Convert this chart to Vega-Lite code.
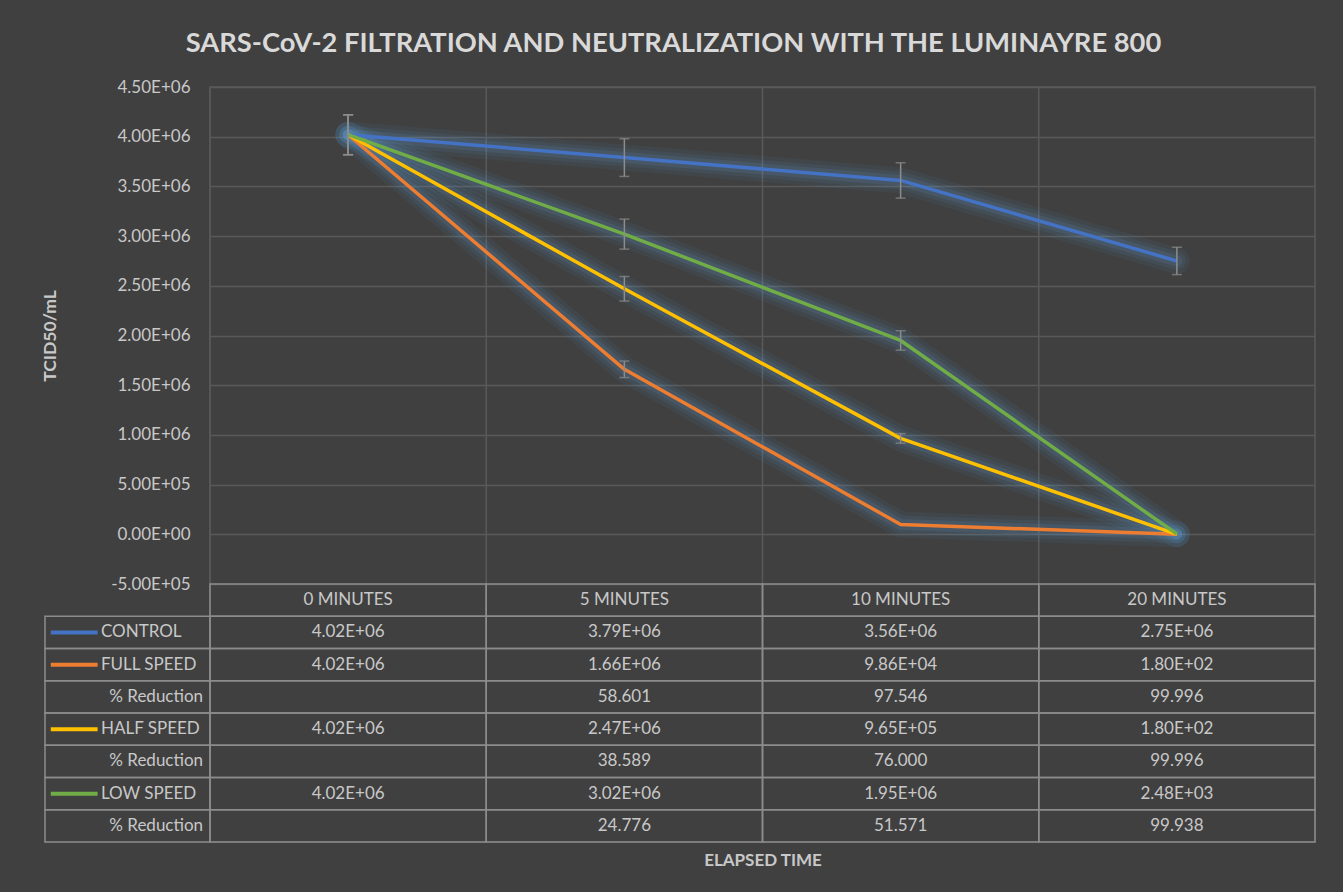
{
  "$schema": "https://vega.github.io/schema/vega-lite/v6.json",
  "width": 1105,
  "height": 755,
  "autosize": {"type": "none"},
  "padding": {"left": 210, "top": 87, "right": 28, "bottom": 50},
  "background": "#404040",
  "config": {
    "view": {"stroke": "#595959", "strokeWidth": 1.5},
    "font": "Lato",
    "text": {"font": "Lato"},
    "axis": {"labelFont": "Lato", "titleFont": "Lato"}
  },
  "title": {
    "text": "SARS-CoV-2 FILTRATION AND NEUTRALIZATION WITH THE LUMINAYRE 800",
    "font": "Lato",
    "fontSize": 27.3,
    "fontWeight": "bold",
    "color": "#d9d9d9",
    "anchor": "middle",
    "frame": "group",
    "dx": -89,
    "offset": 21
  },
  "datasets": {
    "series": [
      {"series": "CONTROL", "time": "0 MINUTES", "value": 4020000, "lo": 3819000, "hi": 4221000},
      {"series": "CONTROL", "time": "5 MINUTES", "value": 3790000, "lo": 3600500, "hi": 3979500},
      {"series": "CONTROL", "time": "10 MINUTES", "value": 3560000, "lo": 3382000, "hi": 3738000},
      {"series": "CONTROL", "time": "20 MINUTES", "value": 2750000, "lo": 2612500, "hi": 2887500},
      {"series": "FULL SPEED", "time": "0 MINUTES", "value": 4020000, "lo": 3819000, "hi": 4221000},
      {"series": "FULL SPEED", "time": "5 MINUTES", "value": 1660000, "lo": 1577000, "hi": 1743000},
      {"series": "FULL SPEED", "time": "10 MINUTES", "value": 98600, "lo": null, "hi": null},
      {"series": "FULL SPEED", "time": "20 MINUTES", "value": 180, "lo": null, "hi": null},
      {"series": "HALF SPEED", "time": "0 MINUTES", "value": 4020000, "lo": 3819000, "hi": 4221000},
      {"series": "HALF SPEED", "time": "5 MINUTES", "value": 2470000, "lo": 2346500, "hi": 2593500},
      {"series": "HALF SPEED", "time": "10 MINUTES", "value": 965000, "lo": 916750, "hi": 1013250},
      {"series": "HALF SPEED", "time": "20 MINUTES", "value": 180, "lo": null, "hi": null},
      {"series": "LOW SPEED", "time": "0 MINUTES", "value": 4020000, "lo": 3819000, "hi": 4221000},
      {"series": "LOW SPEED", "time": "5 MINUTES", "value": 3020000, "lo": 2869000, "hi": 3171000},
      {"series": "LOW SPEED", "time": "10 MINUTES", "value": 1950000, "lo": 1852500, "hi": 2047500},
      {"series": "LOW SPEED", "time": "20 MINUTES", "value": 2480, "lo": null, "hi": null}
    ],
    "table": [
      {"r": "HDR", "c": "0 MINUTES", "t": "0 MINUTES"},
      {"r": "HDR", "c": "5 MINUTES", "t": "5 MINUTES"},
      {"r": "HDR", "c": "10 MINUTES", "t": "10 MINUTES"},
      {"r": "HDR", "c": "20 MINUTES", "t": "20 MINUTES"},
      {"r": "CONTROL", "c": "0 MINUTES", "t": "4.02E+06"},
      {"r": "CONTROL", "c": "5 MINUTES", "t": "3.79E+06"},
      {"r": "CONTROL", "c": "10 MINUTES", "t": "3.56E+06"},
      {"r": "CONTROL", "c": "20 MINUTES", "t": "2.75E+06"},
      {"r": "FULL SPEED", "c": "0 MINUTES", "t": "4.02E+06"},
      {"r": "FULL SPEED", "c": "5 MINUTES", "t": "1.66E+06"},
      {"r": "FULL SPEED", "c": "10 MINUTES", "t": "9.86E+04"},
      {"r": "FULL SPEED", "c": "20 MINUTES", "t": "1.80E+02"},
      {"r": "FULL %", "c": "0 MINUTES", "t": ""},
      {"r": "FULL %", "c": "5 MINUTES", "t": "58.601"},
      {"r": "FULL %", "c": "10 MINUTES", "t": "97.546"},
      {"r": "FULL %", "c": "20 MINUTES", "t": "99.996"},
      {"r": "HALF SPEED", "c": "0 MINUTES", "t": "4.02E+06"},
      {"r": "HALF SPEED", "c": "5 MINUTES", "t": "2.47E+06"},
      {"r": "HALF SPEED", "c": "10 MINUTES", "t": "9.65E+05"},
      {"r": "HALF SPEED", "c": "20 MINUTES", "t": "1.80E+02"},
      {"r": "HALF %", "c": "0 MINUTES", "t": ""},
      {"r": "HALF %", "c": "5 MINUTES", "t": "38.589"},
      {"r": "HALF %", "c": "10 MINUTES", "t": "76.000"},
      {"r": "HALF %", "c": "20 MINUTES", "t": "99.996"},
      {"r": "LOW SPEED", "c": "0 MINUTES", "t": "4.02E+06"},
      {"r": "LOW SPEED", "c": "5 MINUTES", "t": "3.02E+06"},
      {"r": "LOW SPEED", "c": "10 MINUTES", "t": "1.95E+06"},
      {"r": "LOW SPEED", "c": "20 MINUTES", "t": "2.48E+03"},
      {"r": "LOW %", "c": "0 MINUTES", "t": ""},
      {"r": "LOW %", "c": "5 MINUTES", "t": "24.776"},
      {"r": "LOW %", "c": "10 MINUTES", "t": "51.571"},
      {"r": "LOW %", "c": "20 MINUTES", "t": "99.938"}
    ],
    "labels": [
      {"r": "CONTROL", "series": "CONTROL", "name": "CONTROL", "pct": null},
      {"r": "FULL SPEED", "series": "FULL SPEED", "name": "FULL SPEED", "pct": null},
      {"r": "FULL %", "series": null, "name": null, "pct": "% Reduction"},
      {"r": "HALF SPEED", "series": "HALF SPEED", "name": "HALF SPEED", "pct": null},
      {"r": "HALF %", "series": null, "name": null, "pct": "% Reduction"},
      {"r": "LOW SPEED", "series": "LOW SPEED", "name": "LOW SPEED", "pct": null},
      {"r": "LOW %", "series": null, "name": null, "pct": "% Reduction"}
    ]
  },
  "resolve": {"scale": {"x": "independent", "y": "independent"}},
  "layer": [
    {
      "data": {"name": "table"},
      "transform": [{"filter": "datum.r == 'HDR'"}],
      "mark": {"type": "rule", "color": "#595959", "strokeWidth": 1.5},
      "encoding": {
        "x": {"field": "c", "type": "nominal", "sort": null, "bandPosition": 0,
              "scale": {"type": "band", "domain": ["0 MINUTES", "5 MINUTES", "10 MINUTES", "20 MINUTES"], "paddingInner": 0, "paddingOuter": 0},
              "axis": null}
      }
    },
    {
      "data": {"name": "series"},
      "encoding": {
        "x": {
          "field": "time", "type": "nominal", "sort": null,
          "scale": {"type": "band", "domain": ["0 MINUTES", "5 MINUTES", "10 MINUTES", "20 MINUTES"], "paddingInner": 0, "paddingOuter": 0},
          "axis": {"orient": "bottom", "labels": false, "ticks": false, "domain": false, "grid": false,
                   "title": "ELAPSED TIME", "titleFontSize": 17, "titleFontWeight": "bold", "titleColor": "#c8c8c8", "titlePadding": 10}
        },
        "y": {
          "field": "value", "type": "quantitative",
          "scale": {"domain": [-500000, 4500000], "range": [497, 0], "nice": false, "zero": false},
          "axis": {"values": [-500000, 0, 500000, 1000000, 1500000, 2000000, 2500000, 3000000, 3500000, 4000000, 4500000],
                   "labelExpr": "replace(upper(replace(format(datum.value, '.2e'), 'e+', 'e+0')), '\u2212', '-')",
                   "labelFontSize": 17, "labelColor": "#c8c8c8", "labelPadding": 20,
                   "ticks": false, "domain": false, "grid": true, "gridColor": "#595959", "gridWidth": 1.5,
                   "title": "TCID50/mL", "titleFontSize": 17.5, "titleFontWeight": "bold", "titleColor": "#c8c8c8",
                   "titleX": -155, "titleBaseline": "alphabetic"}
        },
        "color": {
          "field": "series", "type": "nominal",
          "scale": {"domain": ["CONTROL", "FULL SPEED", "HALF SPEED", "LOW SPEED"], "range": ["#4472C4", "#ED7D31", "#FFC000", "#70AD47"]},
          "legend": null
        }
      },
      "layer": [
        {"mark": {"type": "line", "strokeWidth": 26, "opacity": 0.07, "strokeCap": "round", "strokeJoin": "round"},
         "encoding": {"color": {"value": "#5b9bd5"}, "detail": {"field": "series"}}},
        {"mark": {"type": "line", "strokeWidth": 18, "opacity": 0.09, "strokeCap": "round", "strokeJoin": "round"},
         "encoding": {"color": {"value": "#5b9bd5"}, "detail": {"field": "series"}}},
        {"mark": {"type": "line", "strokeWidth": 11, "opacity": 0.12, "strokeCap": "round", "strokeJoin": "round"},
         "encoding": {"color": {"value": "#6fa2dc"}, "detail": {"field": "series"}}},
        {"mark": {"type": "line", "strokeWidth": 3.5, "strokeJoin": "round"}},
        {"transform": [{"filter": "datum.lo != null"}],
         "mark": {"type": "rule", "strokeWidth": 1.5},
         "encoding": {"y": {"field": "lo", "type": "quantitative"}, "y2": {"field": "hi"}, "color": {"value": "#8c8c8c"}}},
        {"transform": [{"filter": "datum.lo != null"}],
         "mark": {"type": "tick", "size": 10, "thickness": 1.5, "orient": "horizontal"},
         "encoding": {"y": {"field": "lo", "type": "quantitative"}, "color": {"value": "#8c8c8c"}}},
        {"transform": [{"filter": "datum.hi != null"}],
         "mark": {"type": "tick", "size": 10, "thickness": 1.5, "orient": "horizontal"},
         "encoding": {"y": {"field": "hi", "type": "quantitative"}, "color": {"value": "#8c8c8c"}}}
      ]
    },
    {
      "data": {"name": "table"},
      "encoding": {
        "x": {"field": "c", "type": "nominal", "sort": null,
              "scale": {"type": "band", "domain": ["0 MINUTES", "5 MINUTES", "10 MINUTES", "20 MINUTES"], "paddingInner": 0, "paddingOuter": 0},
              "axis": null},
        "y": {"field": "r", "type": "nominal", "sort": null,
              "scale": {"type": "band", "domain": ["HDR", "CONTROL", "FULL SPEED", "FULL %", "HALF SPEED", "HALF %", "LOW SPEED", "LOW %"], "range": [497, 755], "paddingInner": 0, "paddingOuter": 0},
              "axis": null}
      },
      "layer": [
        {"mark": {"type": "rect", "fill": "#404040", "fillOpacity": 0, "stroke": "#8c8c8c", "strokeWidth": 1.5}},
        {"mark": {"type": "text", "fontSize": 17, "color": "#c8c8c8", "align": "center", "baseline": "middle"},
         "encoding": {"text": {"field": "t"}}}
      ]
    },
    {
      "data": {"name": "labels"},
      "encoding": {
        "y": {"field": "r", "type": "nominal", "sort": null,
              "scale": {"type": "band", "domain": ["HDR", "CONTROL", "FULL SPEED", "FULL %", "HALF SPEED", "HALF %", "LOW SPEED", "LOW %"], "range": [497, 755], "paddingInner": 0, "paddingOuter": 0},
              "axis": null}
      },
      "layer": [
        {"mark": {"type": "rect", "fill": "#404040", "fillOpacity": 0, "stroke": "#8c8c8c", "strokeWidth": 1.5},
         "encoding": {
           "x": {"datum": 0, "type": "quantitative", "scale": {"domain": [0, 1], "range": [-165, 0], "nice": false, "zero": false}, "axis": null},
           "x2": {"datum": 1}
         }},
        {"transform": [{"filter": "datum.series != null"}],
         "mark": {"type": "rule", "strokeWidth": 4},
         "encoding": {
           "x": {"datum": 0.035, "type": "quantitative", "scale": {"domain": [0, 1], "range": [-165, 0], "nice": false, "zero": false}, "axis": null},
           "x2": {"datum": 0.319},
           "color": {"field": "series", "type": "nominal", "legend": null}
         }},
        {"transform": [{"filter": "datum.name != null"}],
         "mark": {"type": "text", "fontSize": 17, "color": "#c8c8c8", "align": "left", "baseline": "middle"},
         "encoding": {
           "x": {"datum": 0.339, "type": "quantitative", "scale": {"domain": [0, 1], "range": [-165, 0], "nice": false, "zero": false}, "axis": null},
           "text": {"field": "name"}
         }},
        {"transform": [{"filter": "datum.pct != null"}],
         "mark": {"type": "text", "fontSize": 17, "color": "#c8c8c8", "align": "right", "baseline": "middle"},
         "encoding": {
           "x": {"datum": 0.958, "type": "quantitative", "scale": {"domain": [0, 1], "range": [-165, 0], "nice": false, "zero": false}, "axis": null},
           "text": {"field": "pct"}
         }}
      ]
    }
  ]
}
